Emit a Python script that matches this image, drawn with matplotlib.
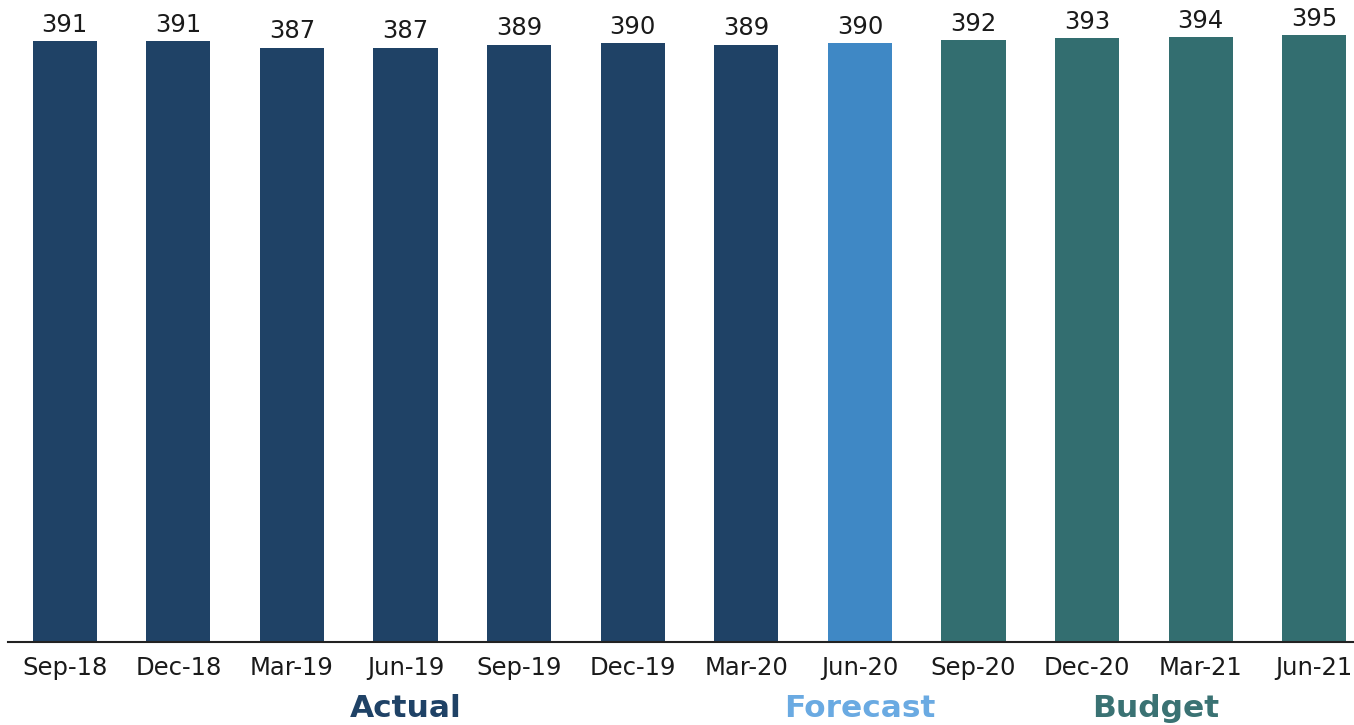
import matplotlib.pyplot as plt

plt.rcParams['font.family'] = ['DejaVu Sans']

# --- Data ---
quarters = ["Sep-18", "Dec-18", "Mar-19", "Jun-19", "Sep-19", "Dec-19",
            "Mar-20", "Jun-20", "Sep-20", "Dec-20", "Mar-21", "Jun-21"]
values = [391, 391, 387, 387, 389, 390, 389, 390, 392, 393, 394, 395]
kinds = ["Actual"] * 7 + ["Forecast"] + ["Budget"] * 4

BAR_COLORS = {"Actual": "#1F4266", "Forecast": "#3F88C5", "Budget": "#336E70"}
TEXT_COLORS = {"Actual": "#1F4266", "Forecast": "#6AAAE2", "Budget": "#3A7273"}
GROUP_POS = {"Actual": 3.0, "Forecast": 7.0, "Budget": 9.6}

fig = plt.figure(figsize=(13.54, 7.25), dpi=100)
ax = fig.add_axes([8 / 1354, 83 / 725, 1346 / 1354, 642 / 725])

x = range(len(quarters))
bars = ax.bar(x, values, width=0.565,
              color=[BAR_COLORS[k] for k in kinds], zorder=2)

for xi, v in zip(x, values):
    ax.annotate(str(v), (xi, v), xytext=(0, 3), textcoords="offset points",
                ha="center", va="bottom", fontsize=17.5, color="#1a1a1a")

ax.set_xlim(-0.5, 11.35)
ax.set_ylim(0, 418)
ax.set_xticks(list(x))
ax.set_xticklabels(quarters, fontsize=17.5, color="#1a1a1a")
ax.tick_params(axis="x", length=0, pad=10)
ax.set_yticks([])

for side in ("top", "right", "left"):
    ax.spines[side].set_visible(False)
ax.spines["bottom"].set_color("#222222")
ax.spines["bottom"].set_linewidth(1.5)

# Group labels under the axis
for name, pos in GROUP_POS.items():
    ax.text(pos, -0.104, name, transform=ax.get_xaxis_transform(),
            ha="center", va="center", fontsize=22.5, fontweight="bold",
            color=TEXT_COLORS[name])

fig.savefig("out.png", dpi=100)
